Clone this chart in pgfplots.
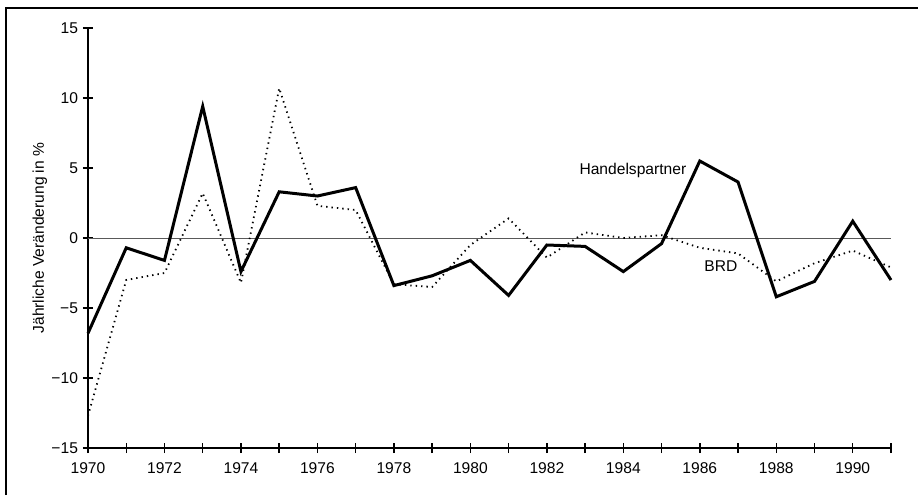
\documentclass[border=0pt]{standalone}
\usepackage{fontspec}
\setmainfont{Liberation Sans}
\usepackage{pgfplots}
\pgfplotsset{compat=1.18}
\begin{document}
\begin{tikzpicture}
\useasboundingbox (-44pt,-23.5pt) rectangle (415pt,224pt);
\draw[line width=0.9pt] (-41pt,-23.5pt) -- (-41pt,220pt) -- (415pt,220pt);
\begin{axis}[
  at={(0,0)}, anchor=south west,
  scale only axis, width=401.5pt, height=210pt,
  xmin=1970, xmax=1991, ymin=-15, ymax=15,
  axis x line*=bottom, axis y line*=left,
  axis line style={line width=0.7pt},
  xtick={1970,1972,...,1990},
  minor xtick={1971,1973,...,1991},
  ytick={-15,-10,...,15},
  yticklabels={−15,−10,−5,0,5,10,15},
  xticklabel style={/pgf/number format/1000 sep={}, yshift=-1.5pt},
  yticklabel style={xshift=1pt},
  /pgf/number format/assume math mode=true,
  tick align=center,
  major tick length=5pt, minor tick length=5pt,
  tick style={line width=0.7pt, black},
  ticklabel style={font=\fontsize{7.8}{8}\selectfont},
  ylabel={Jährliche Veränderung in \%},
  ylabel style={font=\fontsize{7.8}{8}\selectfont, at={(axis description cs:-0.06,0.5)}, anchor=center},
  clip=false,
]
\addplot[gray!70!black, line width=0.5pt] coordinates {(1970,0) (1991,0)};
\addplot[black, line width=0.9pt, dash pattern=on 0.7pt off 2pt] coordinates {
(1970,-12.7) (1971,-3.0) (1972,-2.5) (1973,3.2) (1974,-3.2) (1975,10.7)
(1976,2.3) (1977,2.0) (1978,-3.3) (1979,-3.5) (1980,-0.5) (1981,1.4)
(1982,-1.4) (1983,0.4) (1984,0.0) (1985,0.2) (1986,-0.7) (1987,-1.1)
(1988,-3.1) (1989,-1.8) (1990,-0.9) (1991,-2.1)};
\addplot[black, line width=1.5pt] coordinates {
(1970,-6.8) (1971,-0.7) (1972,-1.6) (1973,9.4) (1974,-2.4) (1975,3.3)
(1976,3.0) (1977,3.6) (1978,-3.4) (1979,-2.7) (1980,-1.6) (1981,-4.1)
(1982,-0.5) (1983,-0.6) (1984,-2.4) (1985,-0.4) (1986,5.5) (1987,4.0)
(1988,-4.2) (1989,-3.1) (1990,1.2) (1991,-3.0)};
\node[font=\fontsize{7.8}{8}\selectfont] at (axis cs:1984.25,4.8) {Handelspartner};
\node[font=\fontsize{7.8}{8}\selectfont] at (axis cs:1986.55,-2.0) {BRD};
\end{axis}
\end{tikzpicture}
\end{document}
